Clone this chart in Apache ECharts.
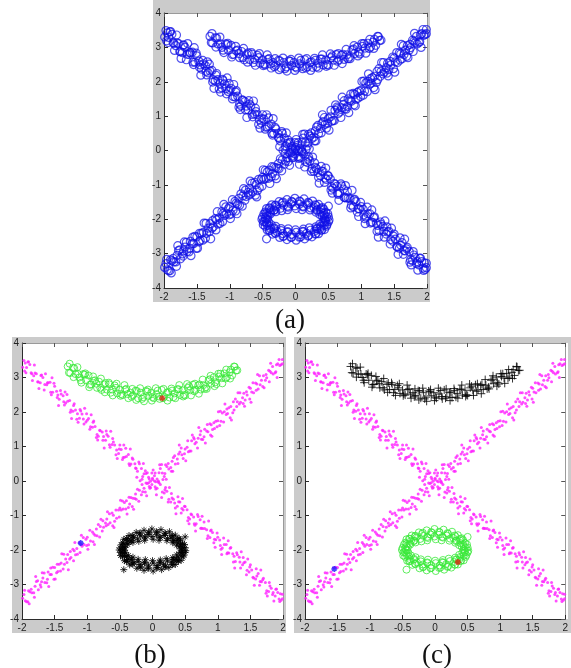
<!DOCTYPE html>
<html>
<head>
<meta charset="utf-8">
<script src="https://cdn.jsdelivr.net/npm/echarts@6/dist/echarts.min.js"></script>
<style>
  html, body { margin: 0; padding: 0; background: #fff; }
  #main { width: 571px; height: 668px; }
</style>
</head>
<body>
<div id="main"></div>
<script>
// Axis ticks shared by all three panels
const xTicks = [-2, -1.5, -1, -0.5, 0, 0.5, 1, 1.5, 2];
const yTicks = [-4, -3, -2, -1, 0, 1, 2, 3, 4];

// Descending diagonal, four sampling passes
const lineDownA = [[-1.97,3.49],[-1.93,3.29],[-1.88,3.38],[-1.82,3.05],[-1.78,3.11],[-1.72,2.85],[-1.68,3.00],[-1.62,2.79],[-1.57,2.86],[-1.53,2.57],[-1.47,2.60],[-1.43,2.37],[-1.37,2.47],[-1.33,2.26],[-1.27,2.33],[-1.22,2.02],[-1.18,2.06],[-1.12,1.82],[-1.08,1.94],[-1.02,1.71],[-0.98,1.81],[-0.92,1.56],[-0.88,1.58],[-0.83,1.30],[-0.77,1.42],[-0.72,1.18],[-0.68,1.30],[-0.62,1.06],[-0.58,1.04],[-0.52,0.80],[-0.48,0.91],[-0.43,0.69],[-0.37,0.77],[-0.33,0.49],[-0.27,0.50],[-0.23,0.28],[-0.17,0.36],[-0.13,0.21],[-0.08,0.24],[-0.03,-0.01],[0.03,0.00],[0.07,-0.21],[0.12,-0.10],[0.18,-0.35],[0.22,-0.30],[0.28,-0.61],[0.32,-0.53],[0.38,-0.73],[0.42,-0.61],[0.47,-0.84],[0.53,-0.83],[0.57,-1.10],[0.63,-1.04],[0.67,-1.24],[0.73,-1.12],[0.77,-1.38],[0.83,-1.41],[0.88,-1.64],[0.92,-1.49],[0.97,-1.70],[1.03,-1.71],[1.07,-1.94],[1.13,-1.84],[1.17,-2.09],[1.23,-2.11],[1.27,-2.33],[1.33,-2.21],[1.38,-2.43],[1.42,-2.35],[1.48,-2.64],[1.52,-2.58],[1.58,-2.84],[1.62,-2.68],[1.67,-2.92],[1.73,-2.94],[1.78,-3.20],[1.82,-3.11],[1.88,-3.33],[1.92,-3.23],[1.97,-3.46]];
const lineDownB = [[-1.99,3.30],[-1.95,3.42],[-1.90,3.46],[-1.85,3.11],[-1.80,3.13],[-1.75,2.87],[-1.70,3.07],[-1.65,2.80],[-1.60,2.85],[-1.55,2.50],[-1.50,2.75],[-1.45,2.49],[-1.40,2.52],[-1.35,2.20],[-1.30,2.31],[-1.25,2.06],[-1.20,2.24],[-1.15,1.95],[-1.10,2.03],[-1.05,1.65],[-1.00,1.76],[-0.95,1.57],[-0.90,1.74],[-0.85,1.35],[-0.80,1.46],[-0.75,1.29],[-0.70,1.35],[-0.65,0.98],[-0.60,1.13],[-0.55,0.90],[-0.50,1.04],[-0.45,0.68],[-0.40,0.71],[-0.35,0.45],[-0.30,0.63],[-0.25,0.36],[-0.20,0.50],[-0.15,0.13],[-0.10,0.22],[-0.05,0.06],[0.00,0.08],[0.05,-0.23],[0.10,-0.05],[0.15,-0.32],[0.20,-0.19],[0.25,-0.53],[0.30,-0.49],[0.35,-0.78],[0.40,-0.60],[0.45,-0.80],[0.50,-0.74],[0.55,-1.06],[0.60,-0.98],[0.65,-1.28],[0.70,-1.03],[0.75,-1.37],[0.80,-1.38],[0.85,-1.59],[0.90,-1.42],[0.95,-1.69],[1.00,-1.63],[1.05,-1.98],[1.10,-1.84],[1.15,-2.08],[1.20,-1.93],[1.25,-2.18],[1.30,-2.14],[1.35,-2.52],[1.40,-2.37],[1.45,-2.59],[1.50,-2.43],[1.55,-2.81],[1.60,-2.75],[1.65,-2.91],[1.70,-2.82],[1.75,-3.18],[1.80,-3.04],[1.85,-3.23],[1.90,-3.13],[1.95,-3.49],[1.99,-3.41]];
const lineDownC = [[-1.96,3.19],[-1.91,3.45],[-1.86,3.14],[-1.81,3.36],[-1.76,2.88],[-1.71,3.06],[-1.66,2.64],[-1.61,2.85],[-1.56,2.57],[-1.51,2.83],[-1.46,2.42],[-1.41,2.62],[-1.36,2.30],[-1.31,2.51],[-1.26,1.99],[-1.21,2.19],[-1.16,1.79],[-1.11,2.07],[-1.06,1.80],[-1.01,1.95],[-0.96,1.50],[-0.91,1.70],[-0.86,1.26],[-0.81,1.47],[-0.76,1.18],[-0.71,1.45],[-0.66,1.05],[-0.61,1.23],[-0.56,0.76],[-0.51,0.93],[-0.46,0.62],[-0.41,0.95],[-0.36,0.50],[-0.31,0.67],[-0.26,0.38],[-0.21,0.55],[-0.16,0.05],[-0.11,0.30],[-0.06,-0.05],[-0.01,0.23],[0.04,-0.17],[0.09,0.00],[0.14,-0.48],[0.19,-0.25],[0.24,-0.61],[0.29,-0.36],[0.34,-0.64],[0.39,-0.46],[0.44,-0.93],[0.49,-0.73],[0.54,-1.15],[0.59,-0.96],[0.64,-1.24],[0.69,-0.97],[0.74,-1.37],[0.79,-1.19],[0.84,-1.67],[0.89,-1.44],[0.94,-1.79],[0.99,-1.51],[1.04,-1.87],[1.09,-1.65],[1.14,-2.11],[1.19,-1.95],[1.24,-2.35],[1.29,-2.08],[1.34,-2.35],[1.39,-2.22],[1.44,-2.72],[1.49,-2.49],[1.54,-2.79],[1.59,-2.54],[1.64,-3.02],[1.69,-2.86],[1.74,-3.25],[1.79,-2.94],[1.84,-3.29],[1.89,-3.14],[1.94,-3.42],[1.99,-3.28]];
const lineDownD = [[-1.94,3.14],[-1.84,2.91],[-1.74,2.68],[-1.64,3.11],[-1.54,2.99],[-1.44,2.19],[-1.34,2.58],[-1.24,1.81],[-1.14,1.70],[-1.04,2.11],[-0.94,1.92],[-0.84,1.19],[-0.74,0.96],[-0.64,1.44],[-0.54,0.65],[-0.44,1.04],[-0.34,0.93],[-0.24,0.11],[-0.14,0.51],[-0.04,-0.21],[0.06,-0.40],[0.16,0.04],[0.26,-0.19],[0.36,-0.95],[0.46,-0.51],[0.56,-1.24],[0.66,-1.45],[0.76,-1.02],[0.86,-1.16],[0.96,-1.92],[1.06,-2.13],[1.16,-1.73],[1.26,-2.52],[1.36,-2.05],[1.46,-2.26],[1.56,-3.02],[1.66,-2.58],[1.76,-3.33],[1.86,-3.48],[1.96,-3.27]];

// Ascending diagonal, four sampling passes
const lineUpA = [[-1.99,-3.40],[-1.95,-3.47],[-1.90,-3.18],[-1.85,-3.24],[-1.80,-3.05],[-1.75,-3.15],[-1.70,-2.92],[-1.65,-2.94],[-1.60,-2.64],[-1.55,-2.71],[-1.50,-2.51],[-1.45,-2.62],[-1.40,-2.38],[-1.35,-2.41],[-1.30,-2.13],[-1.25,-2.22],[-1.20,-2.02],[-1.15,-2.12],[-1.10,-1.83],[-1.05,-1.84],[-1.00,-1.63],[-0.95,-1.74],[-0.90,-1.53],[-0.85,-1.59],[-0.80,-1.32],[-0.75,-1.34],[-0.70,-1.10],[-0.65,-1.21],[-0.60,-0.99],[-0.55,-1.08],[-0.50,-0.78],[-0.45,-0.81],[-0.40,-0.57],[-0.35,-0.67],[-0.30,-0.50],[-0.25,-0.53],[-0.20,-0.27],[-0.15,-0.31],[-0.10,-0.06],[-0.05,-0.16],[0.00,0.04],[0.05,-0.02],[0.10,0.24],[0.15,0.23],[0.20,0.47],[0.25,0.35],[0.30,0.57],[0.35,0.49],[0.40,0.78],[0.45,0.76],[0.50,0.93],[0.55,0.85],[0.60,1.17],[0.65,1.08],[0.70,1.24],[0.75,1.21],[0.80,1.50],[0.85,1.43],[0.90,1.63],[0.95,1.52],[1.00,1.75],[1.05,1.73],[1.10,2.01],[1.15,1.96],[1.20,2.16],[1.25,2.06],[1.30,2.30],[1.35,2.28],[1.40,2.54],[1.45,2.49],[1.50,2.69],[1.55,2.56],[1.60,2.81],[1.65,2.79],[1.70,3.05],[1.75,2.99],[1.80,3.18],[1.85,3.10],[1.90,3.37],[1.95,3.35],[1.99,3.52]];
const lineUpB = [[-1.97,-3.29],[-1.93,-3.50],[-1.88,-3.21],[-1.82,-3.24],[-1.78,-2.91],[-1.72,-3.01],[-1.68,-2.81],[-1.62,-2.95],[-1.57,-2.71],[-1.53,-2.50],[-1.47,-2.66],[-1.43,-2.41],[-1.37,-2.55],[-1.33,-2.26],[-1.27,-2.26],[-1.22,-1.98],[-1.18,-2.14],[-1.12,-1.78],[-1.08,-1.89],[-1.02,-1.69],[-0.98,-1.85],[-0.92,-1.48],[-0.88,-1.57],[-0.83,-1.26],[-0.77,-1.45],[-0.72,-1.22],[-0.68,-1.26],[-0.62,-0.93],[-0.58,-1.17],[-0.52,-0.84],[-0.48,-0.84],[-0.43,-0.62],[-0.37,-0.77],[-0.33,-0.48],[-0.27,-0.51],[-0.23,-0.24],[-0.17,-0.40],[-0.13,-0.21],[-0.08,-0.07],[-0.03,-0.19],[0.03,0.15],[0.07,0.06],[0.12,0.36],[0.18,0.13],[0.22,0.42],[0.28,0.39],[0.32,0.68],[0.38,0.64],[0.42,0.84],[0.47,0.65],[0.53,0.98],[0.57,0.87],[0.63,1.26],[0.67,1.12],[0.73,1.34],[0.77,1.20],[0.83,1.45],[0.88,1.66],[0.92,1.49],[0.97,1.73],[1.03,1.61],[1.07,1.97],[1.13,1.93],[1.17,2.12],[1.23,1.98],[1.27,2.38],[1.33,2.23],[1.38,2.41],[1.42,2.35],[1.48,2.72],[1.52,2.58],[1.58,2.84],[1.62,2.67],[1.67,2.92],[1.73,2.92],[1.78,3.21],[1.82,3.14],[1.88,3.14],[1.92,3.40],[1.97,3.37]];
const lineUpC = [[-1.96,-3.17],[-1.91,-3.50],[-1.86,-3.14],[-1.81,-3.37],[-1.76,-2.89],[-1.71,-3.07],[-1.66,-2.67],[-1.61,-2.85],[-1.56,-2.52],[-1.51,-2.85],[-1.46,-2.41],[-1.41,-2.61],[-1.36,-2.12],[-1.31,-2.36],[-1.26,-2.04],[-1.21,-2.31],[-1.16,-1.96],[-1.11,-2.07],[-1.06,-1.64],[-1.01,-1.87],[-0.96,-1.43],[-0.91,-1.76],[-0.86,-1.39],[-0.81,-1.62],[-0.76,-1.15],[-0.71,-1.30],[-0.66,-0.95],[-0.61,-1.30],[-0.56,-0.84],[-0.51,-1.04],[-0.46,-0.58],[-0.41,-0.81],[-0.36,-0.47],[-0.31,-0.74],[-0.26,-0.38],[-0.21,-0.59],[-0.16,-0.10],[-0.11,-0.32],[-0.06,0.11],[-0.01,-0.10],[0.04,0.23],[0.09,-0.03],[0.14,0.48],[0.19,0.22],[0.24,0.51],[0.29,0.28],[0.34,0.73],[0.39,0.51],[0.44,0.96],[0.49,0.79],[0.54,1.17],[0.59,0.87],[0.64,1.22],[0.69,0.96],[0.74,1.45],[0.79,1.28],[0.84,1.64],[0.89,1.33],[0.94,1.69],[0.99,1.57],[1.04,2.02],[1.09,1.71],[1.14,2.09],[1.19,1.83],[1.24,2.30],[1.29,2.16],[1.34,2.56],[1.39,2.25],[1.44,2.59],[1.49,2.38],[1.54,2.85],[1.59,2.63],[1.64,3.05],[1.69,2.74],[1.74,3.09],[1.79,2.88],[1.84,3.32],[1.89,3.17],[1.94,3.52],[1.99,3.40]];
const lineUpD = [[-1.89,-3.56],[-1.79,-2.77],[-1.69,-2.66],[-1.59,-3.06],[-1.49,-2.84],[-1.39,-2.11],[-1.29,-2.57],[-1.19,-1.78],[-1.09,-1.57],[-0.99,-1.98],[-0.89,-1.84],[-0.79,-1.11],[-0.69,-0.89],[-0.59,-1.35],[-0.49,-0.56],[-0.39,-0.96],[-0.29,-0.82],[-0.19,0.01],[-0.09,-0.43],[0.01,0.32],[0.11,0.47],[0.21,0.05],[0.31,0.28],[0.41,1.04],[0.51,0.59],[0.61,1.33],[0.71,1.55],[0.81,1.10],[0.91,1.30],[1.01,2.01],[1.11,2.23],[1.21,1.77],[1.31,2.56],[1.41,2.17],[1.51,2.28],[1.61,3.09],[1.71,2.70],[1.81,3.41],[1.91,3.00]];

// Upper arc
const arcPts = [[-1.30,3.32],[-1.26,3.13],[-1.22,3.28],[-1.18,3.10],[-1.14,3.10],[-1.10,2.92],[-1.06,3.10],[-1.02,2.92],[-0.98,3.06],[-0.94,2.80],[-0.90,2.90],[-0.86,2.82],[-0.82,2.88],[-0.78,2.64],[-0.74,2.80],[-0.70,2.65],[-0.66,2.80],[-0.62,2.65],[-0.58,2.77],[-0.54,2.54],[-0.50,2.64],[-0.46,2.49],[-0.42,2.65],[-0.38,2.52],[-0.34,2.56],[-0.30,2.48],[-0.26,2.62],[-0.22,2.40],[-0.18,2.56],[-0.14,2.43],[-0.10,2.61],[-0.06,2.47],[-0.02,2.56],[0.02,2.40],[0.06,2.52],[0.10,2.45],[0.14,2.64],[0.18,2.44],[0.22,2.56],[0.26,2.42],[0.30,2.62],[0.34,2.54],[0.38,2.66],[0.42,2.49],[0.46,2.63],[0.50,2.48],[0.54,2.70],[0.58,2.63],[0.62,2.79],[0.66,2.64],[0.70,2.77],[0.74,2.65],[0.78,2.78],[0.82,2.72],[0.86,2.92],[0.90,2.82],[0.94,3.01],[0.98,2.81],[1.02,3.03],[1.06,2.98],[1.10,3.12],[1.14,3.01],[1.18,3.15],[1.22,3.06],[1.26,3.31],[1.30,3.21],
  [-1.28,3.14],[-1.20,3.27],[-1.12,3.00],[-1.04,3.08],[-0.96,2.79],[-0.88,2.92],[-0.80,2.70],[-0.72,2.84],[-0.64,2.56],[-0.56,2.70],[-0.48,2.52],[-0.40,2.67],[-0.32,2.44],[-0.24,2.61],[-0.16,2.38],[-0.08,2.59],[0.00,2.43],[0.08,2.62],[0.16,2.40],[0.24,2.58],[0.32,2.43],[0.40,2.66],[0.48,2.50],[0.56,2.75],[0.64,2.60],[0.72,2.80],[0.80,2.67],[0.88,2.95],[0.96,2.86],[1.04,3.11],[1.12,2.97],[1.20,3.23],[1.28,3.20],
  [-1.27,3.40],[-1.21,3.01],[-1.15,3.30],[-1.09,2.85],[-1.03,3.12],[-0.97,2.72],[-0.91,3.03],[-0.85,2.70],[-0.79,2.97],[-0.73,2.57],[-0.67,2.85],[-0.61,2.48],[-0.55,2.82],[-0.49,2.47],[-0.43,2.78],[-0.37,2.40],[-0.31,2.67],[-0.25,2.35],[-0.19,2.69],[-0.13,2.31],[-0.07,2.65],[-0.01,2.33],[0.05,2.69],[0.11,2.38],[0.17,2.67],[0.23,2.33],[0.29,2.68],[0.35,2.40],[0.41,2.78],[0.47,2.45],[0.53,2.81],[0.59,2.48],[0.65,2.82],[0.71,2.53],[0.77,2.94],[0.83,2.67],[0.89,3.05],[0.95,2.75],[1.01,3.11],[1.07,2.83],[1.13,3.23],[1.19,2.97],[1.25,3.32]];

// Lower ring
const ringPts = [[0.44,-1.97],[0.41,-1.91],[0.37,-1.86],[0.31,-1.79],[0.22,-1.73],[0.10,-1.72],[0.01,-1.69],[-0.12,-1.72],[-0.21,-1.75],[-0.30,-1.78],[-0.38,-1.84],[-0.42,-1.93],[-0.43,-2.01],[-0.41,-2.08],[-0.37,-2.16],[-0.30,-2.21],[-0.22,-2.27],[-0.11,-2.28],[0.00,-2.31],[0.12,-2.29],[0.21,-2.25],[0.31,-2.22],[0.37,-2.14],[0.42,-2.07],
  [0.47,-1.94],[0.43,-1.83],[0.38,-1.72],[0.28,-1.65],[0.18,-1.58],[0.06,-1.56],[-0.07,-1.55],[-0.18,-1.59],[-0.29,-1.64],[-0.37,-1.73],[-0.44,-1.82],[-0.46,-1.95],[-0.47,-2.06],[-0.43,-2.17],[-0.38,-2.27],[-0.28,-2.36],[-0.19,-2.42],[-0.06,-2.44],[0.07,-2.45],[0.17,-2.41],[0.29,-2.35],[0.37,-2.28],[0.44,-2.17],[0.46,-2.06],
  [0.51,-2.02],[0.49,-1.84],[0.43,-1.71],[0.35,-1.57],[0.26,-1.47],[0.13,-1.41],[-0.01,-1.39],[-0.13,-1.43],[-0.25,-1.49],[-0.36,-1.58],[-0.44,-1.69],[-0.48,-1.85],[-0.51,-2.00],[-0.49,-2.16],[-0.43,-2.31],[-0.35,-2.43],[-0.24,-2.53],[-0.13,-2.59],[0.01,-2.61],[0.14,-2.57],[0.25,-2.51],[0.35,-2.42],[0.44,-2.30],[0.48,-2.15],
  [0.39,-1.68],[0.30,-1.58],[0.19,-1.51],[0.06,-1.47],[-0.06,-1.48],[-0.19,-1.50],[-0.30,-1.59],[-0.39,-1.68],[-0.39,-2.32],[-0.30,-2.41],[-0.19,-2.50],[-0.07,-2.53],[0.06,-2.52],[0.19,-2.49],[0.30,-2.43],[0.39,-2.32],
  [0.32,-1.74],[0.12,-1.64],[-0.11,-1.65],[-0.32,-1.73],[-0.32,-2.26],[-0.12,-2.36],[0.11,-2.35],[0.32,-2.27],
  [0.50,-1.93],[0.46,-1.80],[0.41,-1.66],[0.31,-1.60],[0.20,-1.53],[0.07,-1.49],[-0.05,-1.50],[-0.20,-1.53],[-0.31,-1.60],[-0.40,-1.67],[-0.46,-1.79],[-0.50,-1.94],[-0.49,-2.07],[-0.46,-2.20],[-0.40,-2.33],[-0.31,-2.40],[-0.18,-2.49],[-0.06,-2.52],[0.08,-2.51],[0.20,-2.47],[0.31,-2.42],[0.40,-2.31],[0.47,-2.20],[0.50,-2.07],
  [0.45,-2.02],[0.44,-1.89],[0.39,-1.80],[0.33,-1.72],[0.23,-1.67],[0.11,-1.62],[-0.01,-1.61],[-0.12,-1.62],[-0.23,-1.68],[-0.33,-1.74],[-0.39,-1.81],[-0.44,-1.90],[-0.45,-1.99],[-0.44,-2.10],[-0.40,-2.19],[-0.33,-2.28],[-0.22,-2.33],[-0.12,-2.38],[0.01,-2.38],[0.12,-2.37],[0.23,-2.32],[0.33,-2.28],[0.39,-2.20],[0.44,-2.09],
  [-0.44,-2.57],[0.50,-1.62]];

// Highlighted points in the clustered panels
const centerB = [[0.15, 2.40]];
const seedB = [[-1.10, -1.80]];
const centerC = [[0.35, -2.35]];
const seedC = [[-1.55, -2.55]];

const captions = ['(a)', '(b)', '(c)'];

const linePts = [].concat(lineDownA, lineDownB, lineDownC, lineDownD, lineUpA, lineUpB, lineUpC, lineUpD);
const allPts = [].concat(linePts, arcPts, ringPts);

// Panel geometry (plot box, grey frame, caption position)
const panels = [
  { box: [164, 13, 263, 275], frame: [153, 0, 277, 302], cap: [290, 321] },
  { box: [22, 343, 261, 276], frame: [12, 337, 274, 296], cap: [150, 656] },
  { box: [305, 343, 263, 276], frame: [294, 337, 277, 296], cap: [437, 656] }
];

const ASTERISK = 'path://M5,0L5,10M0,5L10,5M1.6,1.6L8.4,8.4M1.6,8.4L8.4,1.6';
const PLUS = 'path://M5,0L5,10M0,5L10,5';
const tickFont = '"Liberation Sans", Arial, sans-serif';

const grids = [], xAxes = [], yAxes = [], graphics = [];
panels.forEach((p, i) => {
  grids.push({ left: p.box[0], top: p.box[1], width: p.box[2], height: p.box[3], show: false });
  const xBase = {
    gridIndex: i, type: 'value', min: xTicks[0], max: xTicks[xTicks.length - 1], interval: 0.5,
    splitLine: { show: false }
  };
  const yBase = {
    gridIndex: i, type: 'value', min: yTicks[0], max: yTicks[yTicks.length - 1], interval: 1,
    splitLine: { show: false }
  };
  xAxes.push(Object.assign({}, xBase, {
    position: 'bottom',
    axisLine: { onZero: false, lineStyle: { color: '#2b2b2b', width: 1 } },
    axisTick: { inside: true, length: 4, lineStyle: { color: '#2b2b2b' } },
    axisLabel: { fontSize: 10, color: '#222', margin: 4, fontFamily: tickFont }
  }));
  xAxes.push(Object.assign({}, xBase, {
    position: 'top',
    axisLine: { onZero: false, lineStyle: { color: '#9a9a9a', width: 1 } },
    axisTick: { inside: true, length: 4, lineStyle: { color: '#555' } },
    axisLabel: { show: false }
  }));
  yAxes.push(Object.assign({}, yBase, {
    position: 'left',
    axisLine: { onZero: false, lineStyle: { color: '#2b2b2b', width: 1 } },
    axisTick: { inside: true, length: 4, lineStyle: { color: '#2b2b2b' } },
    axisLabel: { fontSize: 10, color: '#222', margin: 3, fontFamily: tickFont }
  }));
  yAxes.push(Object.assign({}, yBase, {
    position: 'right',
    axisLine: { onZero: false, lineStyle: { color: '#9a9a9a', width: 1 } },
    axisTick: { inside: true, length: 4, lineStyle: { color: '#555' } },
    axisLabel: { show: false }
  }));
  graphics.push({ type: 'rect', z: -2, shape: { x: p.frame[0], y: p.frame[1], width: p.frame[2], height: p.frame[3] }, style: { fill: '#cbcbcb' } });
  graphics.push({ type: 'rect', z: -1, shape: { x: p.box[0], y: p.box[1], width: p.box[2], height: p.box[3] }, style: { fill: '#ffffff' } });
  graphics.push({ type: 'text', z: 5, x: p.cap[0], y: p.cap[1],
    style: { text: captions[i], font: '27px "Liberation Serif", "DejaVu Serif", serif', fill: '#111', align: 'center', verticalAlign: 'middle' } });
});

function pts(gi, data, symbol, size, itemStyle) {
  return {
    type: 'scatter', xAxisIndex: gi * 2, yAxisIndex: gi * 2, data: data,
    symbol: symbol, symbolSize: size, itemStyle: itemStyle,
    silent: true, animation: false, large: false
  };
}
const ring = (c, w) => ({ color: 'none', borderColor: c, borderWidth: w || 1 });

const series = [
  // (a) all samples, one class
  pts(0, allPts, 'circle', 8, ring('rgba(16,16,230,0.9)', 1.2)),
  // (b) clustering result
  pts(1, linePts, 'circle', 3, { color: '#ff22ff' }),
  pts(1, arcPts, 'circle', 7, ring('#3ae83a', 1)),
  pts(1, ringPts, ASTERISK, 7, ring('#000', 1)),
  pts(1, centerB, ASTERISK, 6, ring('#e02010', 1.6)),
  pts(1, seedB, ASTERISK, 6, ring('#1a1aff', 1.6)),
  // (c) clustering result
  pts(2, linePts, 'circle', 3, { color: '#ff22ff' }),
  pts(2, arcPts, PLUS, 8, ring('#000', 1)),
  pts(2, ringPts, 'circle', 7, ring('#3ae83a', 1)),
  pts(2, centerC, ASTERISK, 6, ring('#e02010', 1.6)),
  pts(2, seedC, ASTERISK, 6, ring('#1a1aff', 1.6))
];

const chart = echarts.init(document.getElementById('main'), null, { renderer: 'canvas' });
chart.setOption({
  backgroundColor: '#ffffff',
  animation: false,
  grid: grids,
  xAxis: xAxes,
  yAxis: yAxes,
  graphic: graphics,
  series: series
});
</script>
</body>
</html>
